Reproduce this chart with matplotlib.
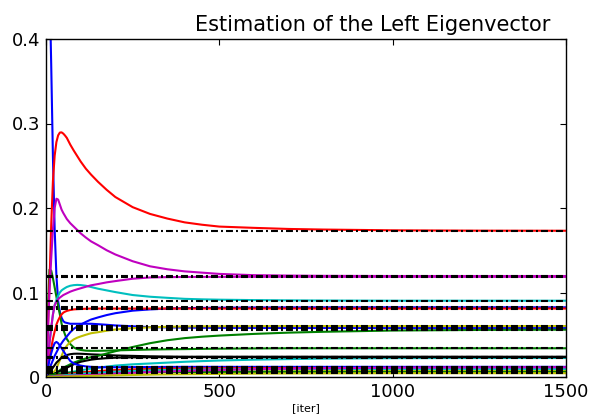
import matplotlib
matplotlib.use("Agg")
import matplotlib.pyplot as plt

# iteration index at which each estimate is sampled
iters = [0, 5, 10, 15, 20, 25, 30, 35, 40, 45,
         50, 55, 60, 70, 80, 90, 100, 115, 130, 150,
         175, 200, 250, 300, 350, 400, 450, 500, 600, 700,
         800, 1000, 1250, 1500]

# running estimates of each eigenvector entry (one list per node)
est_b0 = [0.80, 0.62, 0.47, 0.37, 0.26, 0.175, 0.12, 0.09, 0.077, 0.070,
          0.066, 0.0645, 0.064, 0.063, 0.063, 0.063, 0.063, 0.063, 0.063, 0.0625,
          0.0618, 0.061, 0.060, 0.059, 0.0587, 0.0585, 0.0583, 0.0582, 0.0581, 0.058,
          0.058, 0.058, 0.058, 0.058]
est_g0 = [0.0, 0.075, 0.127, 0.126, 0.117, 0.106, 0.095, 0.084, 0.074, 0.063,
          0.056, 0.050, 0.045, 0.039, 0.035, 0.033, 0.032, 0.0312, 0.031, 0.031,
          0.0312, 0.0315, 0.032, 0.0325, 0.0328, 0.033, 0.0333, 0.0335, 0.0338, 0.034,
          0.034, 0.034, 0.034, 0.034]
est_r0 = [0.0, 0.05, 0.11, 0.18, 0.232, 0.262, 0.278, 0.286, 0.2893, 0.2895,
          0.288, 0.2857, 0.283, 0.275, 0.268, 0.2615, 0.255, 0.2465, 0.2395, 0.231,
          0.2215, 0.213, 0.201, 0.193, 0.1875, 0.183, 0.1802, 0.178, 0.1765, 0.1752,
          0.1745, 0.1736, 0.1732, 0.1731]
est_c0 = [0.0, 0.02, 0.04, 0.058, 0.074, 0.085, 0.091, 0.096, 0.100, 0.1025,
          0.104, 0.1053, 0.1065, 0.108, 0.1087, 0.109, 0.1088, 0.108, 0.1065, 0.1045,
          0.1025, 0.1005, 0.097, 0.095, 0.0937, 0.0925, 0.0919, 0.0915, 0.091, 0.0907,
          0.0905, 0.0903, 0.0903, 0.0903]
est_m0 = [0.0, 0.05, 0.10, 0.14, 0.175, 0.200, 0.211, 0.210, 0.204, 0.198,
          0.194, 0.1905, 0.187, 0.182, 0.178, 0.174, 0.170, 0.165, 0.1605, 0.156,
          0.150, 0.145, 0.137, 0.131, 0.1275, 0.125, 0.1235, 0.122, 0.1205, 0.120,
          0.1197, 0.1195, 0.1195, 0.1195]
est_y0 = [0.0, 0.001, 0.002, 0.003, 0.005, 0.007, 0.010, 0.015, 0.020, 0.025,
          0.030, 0.034, 0.037, 0.0415, 0.0445, 0.0465, 0.048, 0.050, 0.0518, 0.053,
          0.0548, 0.0562, 0.0578, 0.0588, 0.0594, 0.0598, 0.060, 0.0601, 0.0602, 0.0603,
          0.0603, 0.0603, 0.0603, 0.0603]
est_k0 = [0.0, 0.002, 0.005, 0.008, 0.011, 0.014, 0.017, 0.019, 0.021, 0.023,
          0.024, 0.025, 0.026, 0.027, 0.0275, 0.0276, 0.0275, 0.0272, 0.0268, 0.0265,
          0.026, 0.0255, 0.025, 0.0245, 0.0242, 0.024, 0.024, 0.024, 0.024, 0.024,
          0.024, 0.024, 0.024, 0.024]
est_b1 = [0.0, 0.005, 0.010, 0.015, 0.020, 0.025, 0.029, 0.033, 0.037, 0.040,
          0.043, 0.0455, 0.048, 0.053, 0.057, 0.0597, 0.062, 0.0652, 0.068, 0.0705,
          0.0733, 0.0755, 0.0785, 0.080, 0.081, 0.0815, 0.0818, 0.082, 0.0823, 0.0824,
          0.0825, 0.0825, 0.0825, 0.0825]
est_g1 = [0.0, 0.0005, 0.001, 0.002, 0.003, 0.004, 0.005, 0.0065, 0.008, 0.0095,
          0.011, 0.012, 0.013, 0.015, 0.017, 0.0185, 0.020, 0.022, 0.0235, 0.025,
          0.0278, 0.0305, 0.0355, 0.040, 0.0435, 0.046, 0.0477, 0.049, 0.051, 0.0525,
          0.0535, 0.055, 0.0557, 0.056]
est_r1 = [0.0, 0.011, 0.022, 0.034, 0.045, 0.054, 0.062, 0.067, 0.071, 0.074,
          0.0762, 0.0773, 0.0782, 0.0793, 0.080, 0.0803, 0.0805, 0.0808, 0.081, 0.081,
          0.081, 0.081, 0.081, 0.081, 0.081, 0.081, 0.081, 0.081, 0.081, 0.081,
          0.081, 0.081, 0.081, 0.081]
est_c1 = [0.0, 0.0003, 0.0007, 0.001, 0.0014, 0.0018, 0.0022, 0.0026, 0.003, 0.0035,
          0.004, 0.0044, 0.0048, 0.0056, 0.0064, 0.0072, 0.008, 0.0089, 0.0099, 0.011,
          0.0123, 0.0135, 0.015, 0.016, 0.017, 0.018, 0.0188, 0.0195, 0.0205, 0.0212,
          0.0218, 0.0223, 0.0225, 0.0225]
est_m1 = [0.0, 0.02, 0.04, 0.058, 0.074, 0.085, 0.089, 0.092, 0.094, 0.0955,
          0.097, 0.098, 0.099, 0.101, 0.1025, 0.1038, 0.105, 0.1068, 0.1085, 0.110,
          0.112, 0.1135, 0.1163, 0.1178, 0.1182, 0.1184, 0.1185, 0.1185, 0.1185, 0.1185,
          0.1185, 0.1185, 0.1185, 0.1185]
est_y1 = [0.0, 0.0, 0.0002, 0.0003, 0.0005, 0.0006, 0.0008, 0.001, 0.0011, 0.0013,
          0.0014, 0.0015, 0.0017, 0.002, 0.0023, 0.0025, 0.0028, 0.0031, 0.0034, 0.0038,
          0.0042, 0.0045, 0.005, 0.0055, 0.0058, 0.006, 0.0063, 0.0065, 0.0068, 0.0069,
          0.007, 0.007, 0.007, 0.007]
est_k1 = [0.0, 0.0005, 0.001, 0.002, 0.003, 0.004, 0.005, 0.006, 0.007, 0.008,
          0.009, 0.010, 0.011, 0.013, 0.015, 0.0165, 0.018, 0.0193, 0.0205, 0.0215,
          0.0223, 0.0228, 0.0232, 0.0234, 0.0235, 0.0235, 0.0235, 0.0235, 0.0235, 0.0235,
          0.0235, 0.0235, 0.0235, 0.0235]
est_b2 = [0.0, 0.01, 0.02, 0.028, 0.035, 0.040, 0.0415, 0.040, 0.037, 0.034,
          0.031, 0.0277, 0.0245, 0.019, 0.016, 0.0145, 0.0135, 0.0125, 0.012, 0.0115,
          0.0115, 0.0115, 0.0117, 0.0118, 0.0119, 0.012, 0.012, 0.012, 0.012, 0.012,
          0.012, 0.012, 0.012, 0.012]
est_g2 = [0.0, 0.0008, 0.0015, 0.0022, 0.0028, 0.0033, 0.0037, 0.004, 0.0043, 0.0045,
          0.0047, 0.0049, 0.005, 0.0052, 0.0054, 0.0055, 0.0056, 0.0057, 0.0058, 0.0059,
          0.006, 0.006, 0.006, 0.006, 0.006, 0.006, 0.006, 0.006, 0.006, 0.006,
          0.006, 0.006, 0.006, 0.006]
est_r2 = [0.0, 0.0002, 0.0005, 0.0008, 0.001, 0.0013, 0.0016, 0.0019, 0.0022, 0.0025,
          0.0028, 0.003, 0.0033, 0.0038, 0.0043, 0.0048, 0.0052, 0.0058, 0.0064, 0.007,
          0.0077, 0.0082, 0.009, 0.0095, 0.0099, 0.0101, 0.0103, 0.0104, 0.0105, 0.0105,
          0.0105, 0.0105, 0.0105, 0.0105]
est_c2 = [0.0, 0.0001, 0.0003, 0.0005, 0.0007, 0.0009, 0.0011, 0.0013, 0.0015, 0.0017,
          0.0019, 0.0021, 0.0023, 0.0027, 0.003, 0.0034, 0.0037, 0.0042, 0.0047, 0.0052,
          0.0058, 0.0063, 0.0072, 0.0078, 0.0083, 0.0086, 0.0088, 0.009, 0.0093, 0.0094,
          0.0095, 0.0095, 0.0095, 0.0095]
est_m2 = [0.0, 0.0001, 0.0002, 0.0003, 0.0004, 0.0005, 0.0006, 0.0007, 0.0008, 0.0009,
          0.001, 0.0011, 0.0012, 0.0014, 0.0016, 0.0018, 0.002, 0.0023, 0.0026, 0.003,
          0.0035, 0.004, 0.005, 0.0058, 0.0066, 0.0072, 0.0078, 0.0083, 0.0092, 0.0098,
          0.0103, 0.011, 0.0114, 0.0115]
est_y2 = [0.0, 0.0, 0.0001, 0.0001, 0.0002, 0.0002, 0.0003, 0.0003, 0.0004, 0.0004,
          0.0005, 0.0005, 0.0006, 0.0007, 0.0008, 0.0009, 0.001, 0.0012, 0.0014, 0.0015,
          0.0018, 0.002, 0.0024, 0.0028, 0.0031, 0.0033, 0.0035, 0.0037, 0.004, 0.0042,
          0.0043, 0.0045, 0.0045, 0.0045]

estimates = [est_b0, est_g0, est_r0, est_c0, est_m0, est_y0, est_k0,
             est_b1, est_g1, est_r1, est_c1, est_m1, est_y1, est_k1,
             est_b2, est_g2, est_r2, est_c2, est_m2, est_y2]

# exact left eigenvector entries (reference levels)
true_values = [0.058, 0.034, 0.1731, 0.0903, 0.1195, 0.0603, 0.024,
               0.0825, 0.056, 0.081, 0.0225, 0.1185, 0.007, 0.0235,
               0.012, 0.006, 0.0105, 0.0095, 0.0115, 0.0045]

colors = ["b", "g", "r", "c", "m", "y", "k"]
x_ticks = [0, 500, 1000, 1500]
y_ticks = [0, 0.1, 0.2, 0.3, 0.4]
y_tick_labels = ["0", "0.1", "0.2", "0.3", "0.4"]

plt.rcParams["lines.scale_dashes"] = False

fig = plt.figure(figsize=(5.94, 4.2), dpi=100)
ax = fig.add_axes([46 / 594, 43 / 420, 520 / 594, 338 / 420])

for i, est in enumerate(estimates):
    ax.plot(iters, est, color=colors[i % len(colors)], lw=1.5)

for v in true_values:
    ax.plot([iters[0], iters[-1]], [v, v], color="k", lw=1.5,
            linestyle=(0, (5.0, 2.2, 1.4, 2.2)))

ax.set_xlim(0, 1500)
ax.set_ylim(0, 0.4)
ax.set_xticks(x_ticks)
ax.set_xticklabels([str(t) for t in x_ticks])
ax.set_yticks(y_ticks)
ax.set_yticklabels(y_tick_labels)
ax.tick_params(direction="in", length=4, width=0.8, top=True, right=True,
               labelsize=13, pad=4)
for s in ax.spines.values():
    s.set_linewidth(1.0)

ax.set_title("Estimation of the Left Eigenvector", fontsize=15, x=0.629, pad=6)
ax.set_xlabel("[iter]", fontsize=8, labelpad=2)

fig.savefig("out.png", dpi=100)
